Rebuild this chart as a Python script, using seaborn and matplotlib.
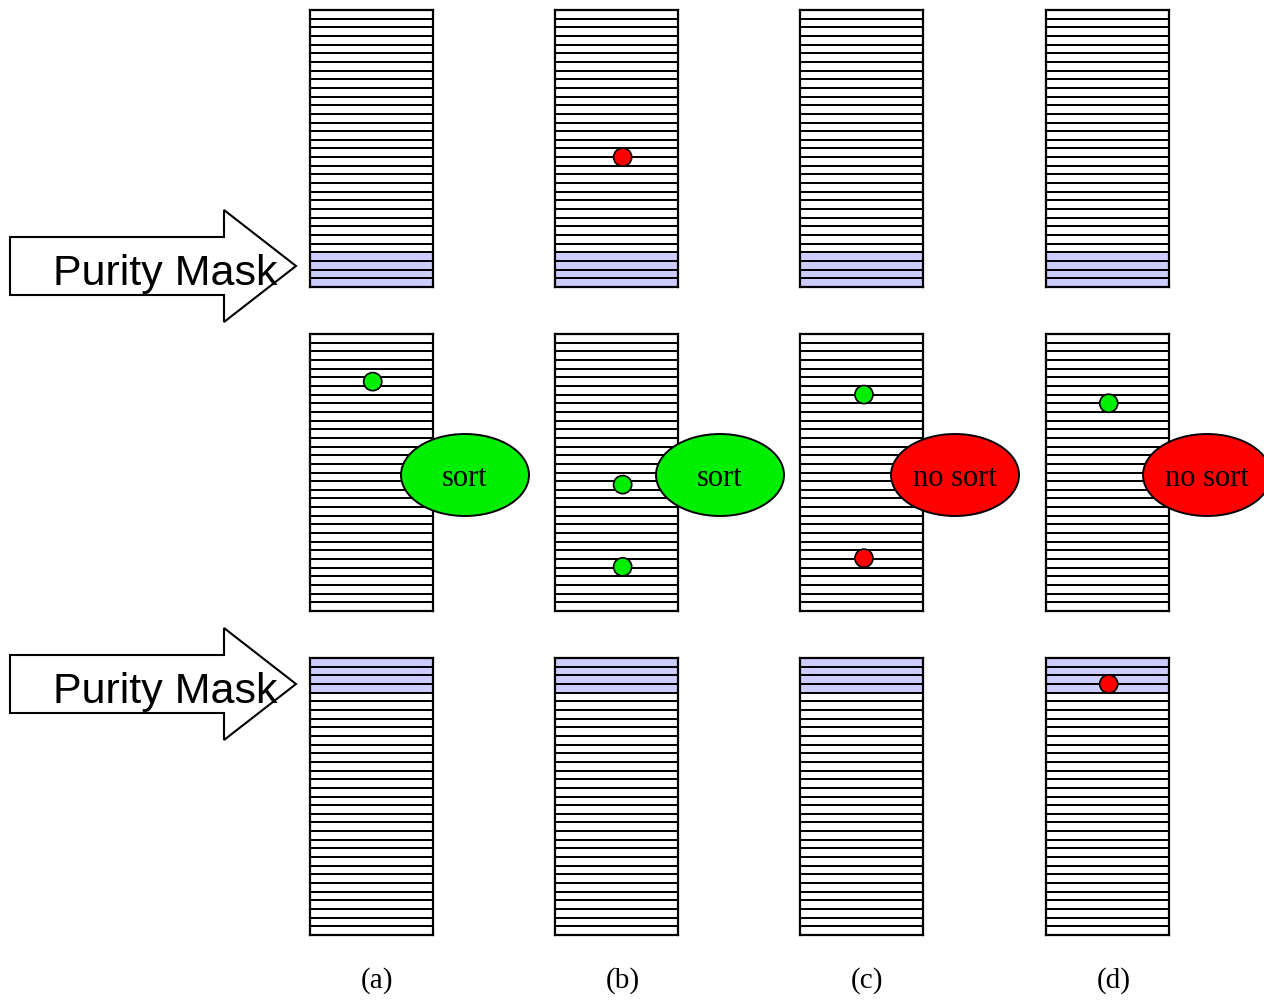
import numpy as np
import pandas as pd
import matplotlib
matplotlib.use('Agg')
import matplotlib.pyplot as plt
from matplotlib.colors import ListedColormap
from matplotlib.patches import Ellipse, Polygon
import seaborn as sns

sns.set_style('white')
plt.rcParams['text.color'] = 'black'

# figure layout (pixels)
W, H = 1264, 1000
col_names = ['a', 'b', 'c', 'd']
col_left = [310, 555, 800, 1046]
row_top = [10, 334, 658]
box_w, box_h = 123, 277
n_slots = 32

# purity mask: bottom 4 slots in first stage, top 4 slots in last stage
mask_slots = {0: [28, 29, 30, 31], 1: [], 2: [0, 1, 2, 3]}

# dots: column, row, slot position (from top), x fraction, colour
dot_col = ['b', 'a', 'b', 'b', 'c', 'c', 'd', 'd']
dot_row = [0, 1, 1, 1, 1, 1, 1, 2]
dot_slot = [17.0, 5.5, 17.4, 26.9, 7.0, 25.9, 8.0, 3.0]
dot_xfrac = [0.55, 0.51, 0.55, 0.55, 0.52, 0.52, 0.51, 0.51]
dot_color = ['red', 'lime', 'lime', 'lime', 'lime', 'red', 'lime', 'red']

# decisions
decision_text = ['sort', 'sort', 'no sort', 'no sort']
decision_color = ['#00ee00', '#00ee00', 'red', 'red']
decision_offset = [32, 42, 32, 38]

fig = plt.figure(figsize=(W / 100, H / 100), dpi=100)

cmap = ListedColormap(['white', '#ccccff'])
for r, top in enumerate(row_top):
    grid = np.zeros((n_slots, 1))
    grid[mask_slots[r], 0] = 1
    for left in col_left:
        bax = fig.add_axes([left / W, 1 - (top + box_h) / H, box_w / W, box_h / H])
        sns.heatmap(grid, ax=bax, cmap=cmap, vmin=0, vmax=1, cbar=False,
                    linewidths=1.4, linecolor='black', xticklabels=False, yticklabels=False)
        for s in bax.spines.values():
            s.set_visible(True)
            s.set_linewidth(1.6)
            s.set_color('black')

# overlay in pixel coordinates
ax = fig.add_axes([0, 0, 1, 1])
ax.set_xlim(0, W)
ax.set_ylim(H, 0)
ax.axis('off')
ax.patch.set_alpha(0)

slot_h = box_h / n_slots
dots = pd.DataFrame({
    'x': [col_left[col_names.index(c)] + f * box_w for c, f in zip(dot_col, dot_xfrac)],
    'y': [row_top[r] + s * slot_h for r, s in zip(dot_row, dot_slot)],
    'color': dot_color,
})
sns.scatterplot(data=dots, x='x', y='y', hue='color',
                palette={'red': 'red', 'lime': '#00ee00'},
                s=170, edgecolor='black', linewidth=1.2, legend=False, ax=ax, zorder=5)

ey = row_top[1] + 141
for i, left in enumerate(col_left):
    cx = left + box_w + decision_offset[i]
    ax.add_patch(Ellipse((cx, ey), 128, 82, facecolor=decision_color[i],
                         edgecolor='black', lw=1.4, zorder=4, clip_on=False))
    ax.text(cx, ey + 3, decision_text[i], ha='center', va='center', fontsize=22,
            family='Liberation Serif', zorder=6)
    ax.text(left + box_w / 2 + 6, 981, f'({col_names[i]})', ha='center', va='center',
            fontsize=21, family='Liberation Serif')

# purity mask arrows
for tip_y in [266, 684]:
    pts = [(10, tip_y - 29), (224, tip_y - 29), (224, tip_y - 56), (296, tip_y),
           (224, tip_y + 56), (224, tip_y + 29), (10, tip_y + 29)]
    ax.add_patch(Polygon(pts, closed=True, facecolor='white', edgecolor='black', lw=1.5))
    ax.text(53, tip_y + 8, 'Purity Mask', ha='left', va='center', fontsize=31,
            family='Liberation Sans')

fig.savefig('out.png', dpi=100)
